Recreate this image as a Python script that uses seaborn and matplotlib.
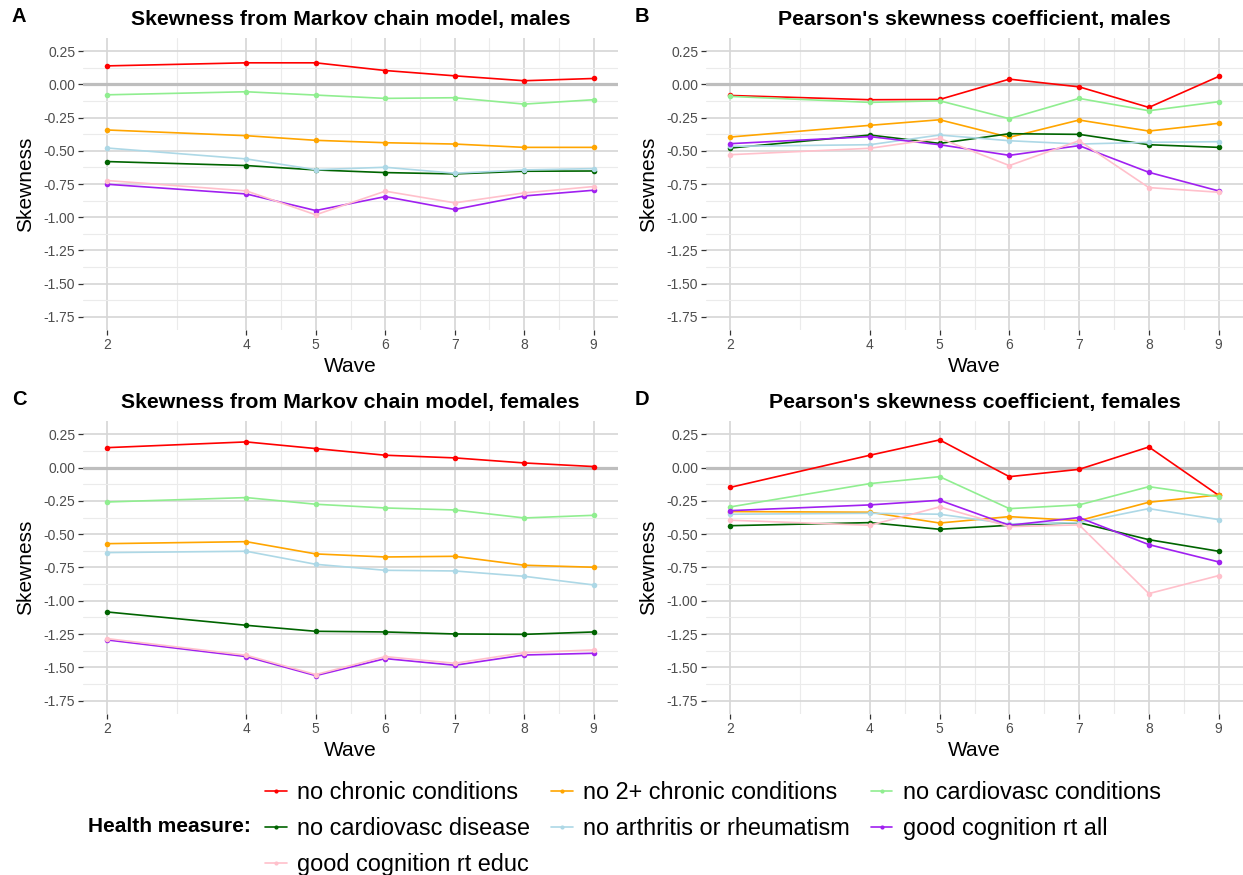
import numpy as np
import pandas as pd
import seaborn as sns
import matplotlib
matplotlib.use("Agg")
import matplotlib.pyplot as plt
from matplotlib.lines import Line2D

sns.set_theme(style="white")
plt.rcParams["font.family"] = ["Liberation Sans", "DejaVu Sans"]
plt.rcParams["text.color"] = "black"
plt.rcParams["axes.labelcolor"] = "black"

waves = [2, 4, 5, 6, 7, 8, 9]

measures = [
    "no chronic conditions",
    "no 2+ chronic conditions",
    "no cardiovasc conditions",
    "no cardiovasc disease",
    "no arthritis or rheumatism",
    "good cognition rt all",
    "good cognition rt educ",
]
colors = ["#FF0000", "#FFA500", "#90EE90", "#006400", "#ADD8E6", "#A020F0", "#FFC0CB"]

# Markov chain skewness, males
markov_males = {
    "no chronic conditions":      [0.140, 0.163, 0.163, 0.105, 0.065, 0.028, 0.045],
    "no 2+ chronic conditions":   [-0.343, -0.386, -0.421, -0.439, -0.449, -0.474, -0.474],
    "no cardiovasc conditions":   [-0.078, -0.055, -0.080, -0.105, -0.100, -0.148, -0.115],
    "no cardiovasc disease":      [-0.581, -0.611, -0.644, -0.664, -0.674, -0.654, -0.652],
    "no arthritis or rheumatism": [-0.479, -0.561, -0.642, -0.624, -0.669, -0.644, -0.634],
    "good cognition rt all":      [-0.752, -0.825, -0.950, -0.845, -0.942, -0.840, -0.797],
    "good cognition rt educ":     [-0.724, -0.802, -0.982, -0.804, -0.892, -0.817, -0.769],
}

# Pearson's skewness coefficient, males
pearson_males = {
    "no chronic conditions":      [-0.083, -0.115, -0.113, 0.040, -0.018, -0.173, 0.060],
    "no 2+ chronic conditions":   [-0.396, -0.308, -0.266, -0.398, -0.268, -0.351, -0.293],
    "no cardiovasc conditions":   [-0.090, -0.135, -0.123, -0.258, -0.105, -0.198, -0.130],
    "no cardiovasc disease":      [-0.479, -0.381, -0.444, -0.371, -0.376, -0.454, -0.474],
    "no arthritis or rheumatism": [-0.466, -0.454, -0.381, -0.424, -0.449, -0.436, -0.431],
    "good cognition rt all":      [-0.446, -0.393, -0.454, -0.534, -0.461, -0.662, -0.802],
    "good cognition rt educ":     [-0.529, -0.481, -0.406, -0.611, -0.424, -0.777, -0.812],
}

# Markov chain skewness, females
markov_females = {
    "no chronic conditions":      [0.150, 0.193, 0.143, 0.093, 0.073, 0.035, 0.008],
    "no 2+ chronic conditions":   [-0.571, -0.556, -0.648, -0.671, -0.666, -0.733, -0.748],
    "no cardiovasc conditions":   [-0.258, -0.225, -0.275, -0.303, -0.318, -0.378, -0.358],
    "no cardiovasc disease":      [-1.084, -1.184, -1.229, -1.234, -1.249, -1.252, -1.234],
    "no arthritis or rheumatism": [-0.638, -0.628, -0.726, -0.771, -0.776, -0.816, -0.881],
    "good cognition rt all":      [-1.294, -1.419, -1.562, -1.434, -1.484, -1.407, -1.394],
    "good cognition rt educ":     [-1.284, -1.409, -1.554, -1.419, -1.469, -1.389, -1.369],
}

# Pearson's skewness coefficient, females
pearson_females = {
    "no chronic conditions":      [-0.148, 0.093, 0.208, -0.068, -0.013, 0.155, -0.208],
    "no 2+ chronic conditions":   [-0.330, -0.335, -0.416, -0.368, -0.398, -0.260, -0.205],
    "no cardiovasc conditions":   [-0.295, -0.120, -0.068, -0.308, -0.280, -0.143, -0.218],
    "no cardiovasc disease":      [-0.436, -0.413, -0.463, -0.433, -0.413, -0.541, -0.628],
    "no arthritis or rheumatism": [-0.350, -0.343, -0.350, -0.423, -0.413, -0.308, -0.390],
    "good cognition rt all":      [-0.323, -0.280, -0.245, -0.433, -0.375, -0.578, -0.708],
    "good cognition rt educ":     [-0.395, -0.433, -0.295, -0.443, -0.430, -0.946, -0.811],
}

panels = [
    ("A", "Skewness from Markov chain model, males", markov_males),
    ("B", "Pearson's skewness coefficient, males", pearson_males),
    ("C", "Skewness from Markov chain model, females", markov_females),
    ("D", "Pearson's skewness coefficient, females", pearson_females),
]

y_major = np.arange(-1.75, 0.26, 0.25)
y_minor = y_major[:-1] + 0.125
x_minor = [3, 4.5, 5.5, 6.5, 7.5, 8.5]

W, H = 1243, 875
fig = plt.figure(figsize=(W / 100, H / 100), dpi=100)

# axes rectangles in pixels: left, top, right, bottom
rects = [
    (83, 38, 618, 330),
    (706, 38, 1243, 330),
    (83, 421, 618, 714),
    (706, 421, 1243, 714),
]
palette = dict(zip(measures, colors))

for (tag, title, data), (l, t, r, b) in zip(panels, rects):
    ax = fig.add_axes([l / W, 1 - b / H, (r - l) / W, (b - t) / H])
    df = pd.DataFrame(
        [(m, w, v) for m in measures for w, v in zip(waves, data[m])],
        columns=["measure", "Wave", "Skewness"],
    )
    ax.set_xlim(1.65, 9.35)
    ax.set_ylim(-1.85, 0.35)
    ax.set_xticks(waves)
    ax.set_xticks(x_minor, minor=True)
    ax.set_yticks(y_major)
    ax.set_yticks(y_minor, minor=True)
    ax.set_yticklabels([f"{v:.2f}" for v in y_major])
    ax.grid(which="major", color="#D6D6D6", linewidth=1.2, zorder=0)
    ax.grid(which="minor", color="#EBEBEB", linewidth=0.8, zorder=0)
    ax.set_axisbelow(True)
    ax.axhline(0, color="#BEBEBE", linewidth=2.3, zorder=1)
    sns.lineplot(
        data=df, x="Wave", y="Skewness", hue="measure", hue_order=measures,
        palette=palette, marker="o", markersize=4, markeredgewidth=0,
        linewidth=1.2, legend=False, ax=ax, zorder=3,
    )
    for s in ax.spines.values():
        s.set_visible(False)
    ax.tick_params(axis="both", which="major", bottom=True, left=True, direction="out",
                   length=3.5, width=0.9, color="#333333",
                   labelcolor="#4D4D4D", labelsize=10, pad=2)
    ax.tick_params(axis="both", which="minor", length=0)
    ax.set_xlabel("Wave", fontsize=15, labelpad=4)
    ax.set_ylabel("Skewness", fontsize=15, va="center")
    ax.yaxis.set_label_coords(-57 / (r - l), 0.5)
    ax.set_title(title, fontsize=15.3, fontweight="bold", pad=9.5)
    fig.text((l - 71) / W, 1 - (t - 21) / H, tag, fontsize=14.5, fontweight="bold",
             ha="left", va="center")

# Legend: three columns laid out row by row
order = [0, 3, 6, 1, 4, 2, 5]
handles = [Line2D([0], [0], color=colors[i], linewidth=1.2, marker="o",
                  markersize=3, markeredgewidth=0) for i in order]
labels = [measures[i] for i in order]
fig.legend(handles, labels, loc="upper left", bbox_to_anchor=(265 / W, 1 - 781 / H),
           ncol=3, frameon=False, fontsize=16.9, borderpad=0, borderaxespad=0,
           handlelength=0.92, handletextpad=0.46, columnspacing=0.88, labelspacing=0.55)
fig.text(88 / W, 1 - 827 / H, "Health measure:", fontsize=15, fontweight="bold",
         ha="left", va="center")

fig.savefig("out.png", dpi=100)
